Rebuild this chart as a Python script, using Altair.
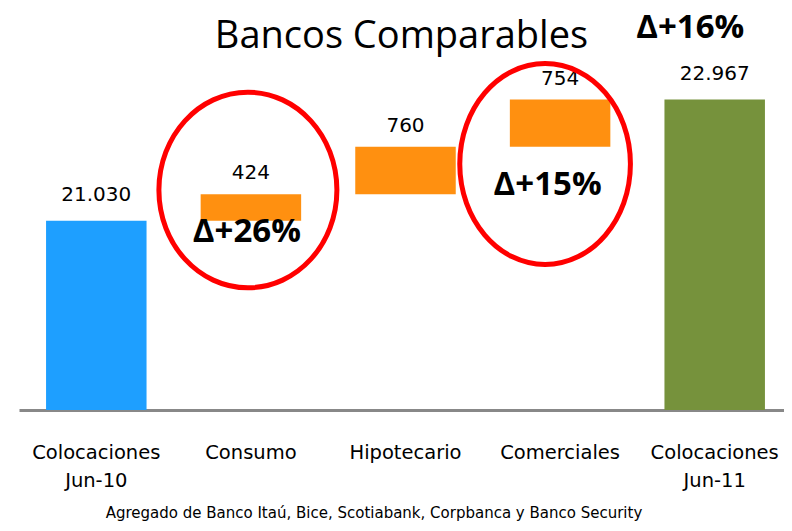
import altair as alt
import pandas as pd

# ---- data ----
categories = ["Colocaciones Jun-10", "Consumo", "Hipotecario", "Comerciales", "Colocaciones Jun-11"]
kinds = ["total", "delta", "delta", "delta", "total"]
values = [21030, 424, 760, 754, 22967]
bar_colors = ["#1E9FFF", "#FF9010", "#FF9010", "#FF9010", "#76923C"]
delta_texts = ["Δ+26%", "Δ+15%", "Δ+16%"]
delta_categories = ["Consumo", "Comerciales", "Colocaciones Jun-11"]
title_text = "Bancos Comparables"
footnote_text = "Agregado de Banco Itaú, Bice, Scotiabank, Corpbanca y Banco Security"
y_domain = [18000, 24000]

# ---- build waterfall table ----
starts, ends = [], []
running = 0
for k, v in zip(kinds, values):
    if k == "total":
        starts.append(None)
        ends.append(v)
        running = v
    else:
        starts.append(running)
        ends.append(running + v)
        running += v

df = pd.DataFrame({"category": categories, "kind": kinds, "value": values,
                   "start": starts, "end": ends})

W, H = 765, 375

x_enc = alt.X("category:N", sort=categories, title=None,
              scale=alt.Scale(range=[0, 773], paddingInner=0.35, paddingOuter=0.175),
              axis=alt.Axis(labelExpr="split(datum.label, ' ')", labelFont="DejaVu Sans",
                            labelFontSize=19.5, labelColor="#000000", labelLineHeight=28,
                            labelBaseline="alphabetic", labelPadding=48, labelAngle=0,
                            ticks=False, tickSize=0, domainColor="#888888", domainWidth=3,
                            grid=False, labelLimit=400))
y_scale = alt.Scale(domain=y_domain, zero=False, nice=False)
color_enc = alt.Color("category:N", scale=alt.Scale(domain=categories, range=bar_colors), legend=None)

base = alt.Chart(df)

totals = base.transform_filter("datum.kind == 'total'").mark_bar().encode(
    x=x_enc, y=alt.Y("end:Q", scale=y_scale, axis=None), y2=alt.datum(y_domain[0]),
    color=color_enc)

deltas = base.transform_filter("datum.kind == 'delta'").mark_bar().encode(
    x=x_enc, y=alt.Y("end:Q", scale=y_scale, axis=None), y2="start:Q", color=color_enc)

label_base = base.transform_calculate(
    lbl="replace(format(datum.value, ','), ',', '.')"
)
labels_tot = label_base.transform_filter("datum.kind == 'total'").mark_text(
    font="DejaVu Sans", fontSize=20, color="#000000", baseline="alphabetic", dy=-20
).encode(x=x_enc, y=alt.Y("end:Q", scale=y_scale, axis=None), text="lbl:N")
labels_del = label_base.transform_filter("datum.kind == 'delta'").mark_text(
    font="DejaVu Sans", fontSize=20, color="#000000", baseline="alphabetic", dy=-15
).encode(x=x_enc, y=alt.Y("end:Q", scale=y_scale, axis=None), text="lbl:N")


def ellipse_path(a):
    k = 0.5523
    ka = k * a
    return (f"M0,-1 C{ka:.4f},-1 {a:.4f},-{k} {a:.4f},0 "
            f"C{a:.4f},{k} {ka:.4f},1 0,1 "
            f"C-{ka:.4f},1 -{a:.4f},{k} -{a:.4f},0 "
            f"C-{a:.4f},-{k} -{ka:.4f},-1 0,-1 Z")


ell_df = pd.DataFrame({"category": ["Consumo", "Comerciales"]})
ellipse_left = alt.Chart(ell_df).transform_filter("datum.category == 'Consumo'").mark_point(
    shape=ellipse_path(0.91), size=195.6 ** 2, filled=False, stroke="#FF0000",
    strokeWidth=5, opacity=1, xOffset=-3
).encode(x=x_enc, y=alt.value(155))
ellipse_right = alt.Chart(ell_df).transform_filter("datum.category == 'Comerciales'").mark_point(
    shape=ellipse_path(0.849), size=201 ** 2, filled=False, stroke="#FF0000",
    strokeWidth=5, opacity=1, xOffset=-15
).encode(x=x_enc, y=alt.value(129))

delta_df = pd.DataFrame({"category": delta_categories, "txt": delta_texts})
delta_pos = [(-4, 207), (-12.5, 160), (-24.5, 3)]
delta_layers = []
for i, (dx, ypx) in enumerate(delta_pos):
    delta_layers.append(
        alt.Chart(delta_df).transform_filter(f"datum.category == '{delta_categories[i]}'")
        .mark_text(font="Open Sans", fontWeight="bold", fontSize=33, color="#000000",
                   baseline="alphabetic", dx=dx)
        .encode(x=x_enc, y=alt.value(ypx), text="txt:N")
    )

title = alt.Chart(pd.DataFrame({"t": [title_text]})).mark_text(
    font="Open Sans", fontSize=38, color="#000000", baseline="alphabetic", align="center"
).encode(x=alt.value(382.5), y=alt.value(13), text="t:N")

footnote = alt.Chart(pd.DataFrame({"t": [footnote_text]})).mark_text(
    font="DejaVu Sans", fontSize=15, color="#000000", baseline="alphabetic", align="center"
).encode(x=alt.value(355), y=alt.value(483), text="t:N")

chart = alt.layer(
    totals, deltas, labels_tot, labels_del, ellipse_left, ellipse_right,
    *delta_layers, title, footnote
).properties(
    width=W, height=H,
    autosize=alt.AutoSizeParams(type="none"),
    padding={"left": 11, "top": 27, "right": 0, "bottom": 113},
    background="#FFFFFF",
).configure_view(stroke=None)

chart.save("out.html", embed_options={"renderer": "svg", "actions": False})
